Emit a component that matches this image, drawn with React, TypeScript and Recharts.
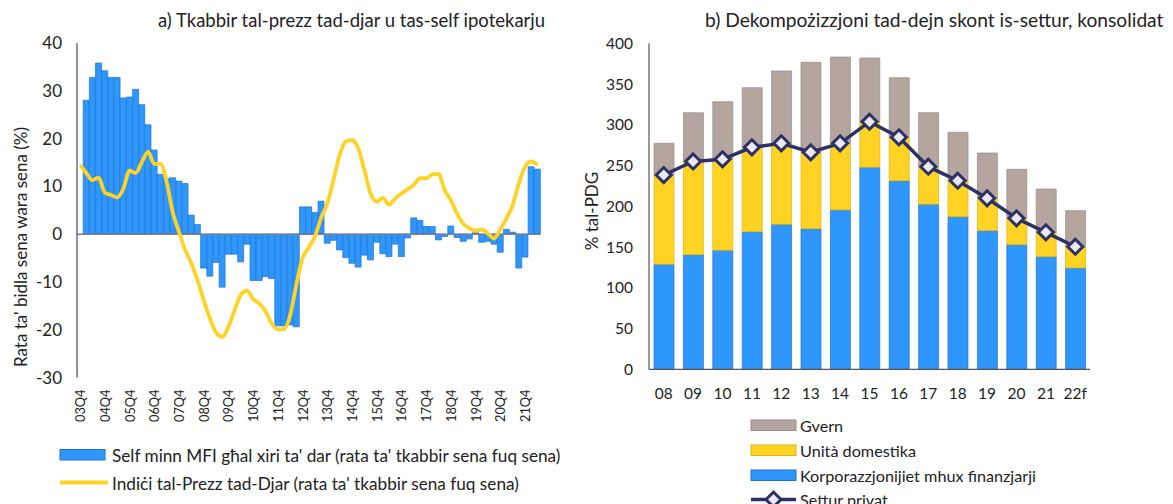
import React from 'react'
import {
  ComposedChart, Bar, Line, XAxis, YAxis, ReferenceLine,
} from 'recharts'

// panel a) - quarterly, 03Q4 .. 22Q2
const quarters = [
  '03Q4',
  '04Q1', '04Q2', '04Q3', '04Q4',
  '05Q1', '05Q2', '05Q3', '05Q4',
  '06Q1', '06Q2', '06Q3', '06Q4',
  '07Q1', '07Q2', '07Q3', '07Q4',
  '08Q1', '08Q2', '08Q3', '08Q4',
  '09Q1', '09Q2', '09Q3', '09Q4',
  '10Q1', '10Q2', '10Q3', '10Q4',
  '11Q1', '11Q2', '11Q3', '11Q4',
  '12Q1', '12Q2', '12Q3', '12Q4',
  '13Q1', '13Q2', '13Q3', '13Q4',
  '14Q1', '14Q2', '14Q3', '14Q4',
  '15Q1', '15Q2', '15Q3', '15Q4',
  '16Q1', '16Q2', '16Q3', '16Q4',
  '17Q1', '17Q2', '17Q3', '17Q4',
  '18Q1', '18Q2', '18Q3', '18Q4',
  '19Q1', '19Q2', '19Q3', '19Q4',
  '20Q1', '20Q2', '20Q3', '20Q4',
  '21Q1', '21Q2', '21Q3', '21Q4',
  '22Q1', '22Q2',
]

const mfiLoans: (number | null)[] = [
  null,
  28.0, 32.8, 35.8, 34.2, 32.8, 32.8, 28.5, 28.7, 30.3, 27.1, 22.9, 17.6, 12.5, 11.6, 11.8, 11.1, 10.6, 4.0, 2.0,
  -7.1, -8.8, -5.9, -11.1, -4.2, -4.2, -5.8, -2.1, -9.7, -9.7, -8.9, -9.3,
  -19.2, -19.2, -19.0, -19.4,
  5.7, 5.7, 4.5, 6.9,
  -1.9, -1.3, -3.3, -4.9, -6.1, -6.9, -4.4, -5.4, -1.7, -4.1, -4.7, -2.1, -4.7, -0.8,
  3.4, 2.9, 1.6, 1.6,
  -1.2, -0.5, 1.7, -0.7, -1.5, -1.0, 0.3, -1.7, -1.5, -2.1, -3.8, 1.0, 0.4, -7.1, -4.8,
  14.1, 13.6,
]

const housePrices = [
  14.5, 12.8, 11.3, 11.8, 8.7, 8.2, 7.7, 9.5, 13.3, 12.8, 15.1, 17.2, 14.7, 14.7, 11.0, 4.5, 0.5,
  -3.3, -6.1, -9.6, -13.8, -17.6, -20.6, -21.5, -19.4, -15.9, -12.7, -11.8, -13.6, -14.5, -16.2, -18.7, -19.9, -19.9, -17.0,
  -10.5, -5.0, -2.8, -0.5, 3.4, 6.4, 11.3, 16.6, 19.4, 19.7, 18.0, 13.4, 8.5, 6.8, 7.6,
  6.2, 7.5, 8.5, 9.4, 10.3, 11.7, 11.7, 12.5, 12.6, 9.2, 7.1, 4.3, 2.2, 1.2, 0.7,
  1.0, 0.1, -0.9, 1.0, 3.3, 6.1, 10.6, 14.1, 15.2, 14.5,
]

const leftTicks = [-30, -20, -10, 0, 10, 20, 30, 40]

// panel b) - yearly, % of GDP
const years = ['08', '09', '10', '11', '12', '13', '14', '15', '16', '17', '18', '19', '20', '21', '22f']
const corporates = [128.8, 140.6, 146.0, 168.8, 177.9, 172.5, 195.5, 247.9, 231.4, 202.5, 187.2, 170.1, 152.9, 138.2, 124.3]
const households = [109.6, 114.4, 111.7, 103.6, 99.4, 93.8, 81.8, 55.9, 53.3, 46.1, 44.2, 39.7, 32.4, 29.9, 26.1]
const government = [38.9, 59.8, 70.6, 73.1, 88.7, 110.4, 105.9, 78.2, 73.1, 66.2, 59.4, 55.6, 60.1, 53.1, 44.2]
const privateSector = [238.4, 255.0, 257.7, 272.4, 277.3, 266.3, 277.3, 303.8, 284.7, 248.6, 231.4, 209.8, 185.3, 168.1, 150.4]

const rightTicks = [0, 50, 100, 150, 200, 250, 300, 350, 400]

const BLUE = '#2f97fb'
const BLUE_EDGE = '#1c72d2'
const YELLOW = '#ffd324'
const YELLOW_EDGE = '#e2b10c'
const TAUPE = '#b4a69f'
const TAUPE_EDGE = '#9a8a84'
const NAVY = '#2d3166'
const TEXT = '#222'
const FONT = 'Lato, "Open Sans", sans-serif'

const leftData = quarters.map((q, i) => ({ q, loans: mfiLoans[i], hpi: housePrices[i] }))
const rightData = years.map((y, i) => ({
  y,
  corp: corporates[i],
  hh: households[i],
  gov: government[i],
  priv: privateSector[i],
}))

function QuarterTick(props: any) {
  const { x, y, payload } = props
  return (
    <text
      transform={`translate(${x},${y + 4}) rotate(-90)`}
      textAnchor="end"
      dominantBaseline="central"
      fontSize={12.8}
      fill={TEXT}
      fontFamily={FONT}
    >
      {payload.value}
    </text>
  )
}

function Diamond(props: any) {
  const { cx, cy } = props
  if (cx == null || cy == null) return null
  const r = 7.5
  return (
    <polygon
      points={`${cx},${cy - r} ${cx + r},${cy} ${cx},${cy + r} ${cx - r},${cy}`}
      fill="#e9e9ef"
      stroke={NAVY}
      strokeWidth={3}
    />
  )
}

function HousingChart() {
  return (
    <ComposedChart
      width={580}
      height={504}
      data={leftData}
      margin={{ top: 43, right: 39.5, left: 0, bottom: 86.5 }}
      barCategoryGap={0}
    >
      <XAxis
        dataKey="q"
        interval={3}
        height={40}
        axisLine={false}
        tickLine={false}
        tick={<QuarterTick />}
      />
      <YAxis
        width={77}
        domain={[-30, 40]}
        ticks={leftTicks}
        interval={0}
        tickLine={false}
        tickMargin={9}
        axisLine={{ stroke: '#46486c', strokeWidth: 1.2 }}
        tick={{ fontSize: 17, fill: TEXT, fontFamily: FONT }}
      />
      <Bar dataKey="loans" fill={BLUE} stroke={BLUE_EDGE} strokeWidth={0.7} isAnimationActive={false} />
      <ReferenceLine y={0} stroke="#7c7c88" strokeWidth={1.5} />
      <Line
        type="monotone"
        dataKey="hpi"
        stroke={YELLOW}
        strokeWidth={3.8}
        dot={false}
        isAnimationActive={false}
      />
    </ComposedChart>
  )
}

function DebtChart() {
  return (
    <ComposedChart
      width={593}
      height={504}
      data={rightData}
      margin={{ top: 43.3, right: 83, left: 0, bottom: 104.7 }}
    >
      <XAxis
        dataKey="y"
        height={30}
        tickLine={false}
        tickMargin={12.5}
        axisLine={{ stroke: '#555', strokeWidth: 1.2 }}
        tick={{ fontSize: 15.5, fill: TEXT, fontFamily: FONT }}
        interval={0}
      />
      <YAxis
        width={69}
        domain={[0, 400]}
        ticks={rightTicks}
        interval={0}
        tickLine={false}
        tickMargin={10}
        axisLine={{ stroke: '#555', strokeWidth: 1.2 }}
        tick={{ fontSize: 15.5, fill: TEXT, fontFamily: FONT }}
      />
      <Bar dataKey="corp" stackId="s" barSize={20} fill={BLUE} stroke={BLUE_EDGE} strokeWidth={0.7} isAnimationActive={false} />
      <Bar dataKey="hh" stackId="s" barSize={20} fill={YELLOW} stroke={YELLOW_EDGE} strokeWidth={0.7} isAnimationActive={false} />
      <Bar dataKey="gov" stackId="s" barSize={20} fill={TAUPE} stroke={TAUPE_EDGE} strokeWidth={0.7} isAnimationActive={false} />
      <Line
        type="linear"
        dataKey="priv"
        stroke={NAVY}
        strokeWidth={3.5}
        dot={<Diamond />}
        isAnimationActive={false}
      />
    </ComposedChart>
  )
}

function Overlay() {
  const txt = { fill: TEXT, fontFamily: FONT }
  return (
    <svg
      width={1173}
      height={504}
      style={{ position: 'absolute', left: 0, top: 0, pointerEvents: 'none' }}
    >
      {/* titles */}
      <text x={158} y={27} fontSize={18.5} {...txt}>
        a) Tkabbir tal-prezz tad-djar u tas-self ipotekarju
      </text>
      <text x={705} y={27} fontSize={19.2} {...txt}>
        b) Dekompożizzjoni tad-dejn skont is-settur, konsolidat
      </text>

      {/* axis titles */}
      <text transform="translate(20,247) rotate(-90)" textAnchor="middle" dominantBaseline="central" fontSize={17} {...txt}>
        Rata ta' bidla sena wara sena (%)
      </text>
      <text transform="translate(591,211) rotate(-90)" textAnchor="middle" dominantBaseline="central" fontSize={17} {...txt}>
        % tal-PDG
      </text>

      {/* legend a) */}
      <rect x={60} y={449.5} width={45} height={10.5} fill={BLUE} stroke={BLUE_EDGE} strokeWidth={1} />
      <text x={112} y={455} dominantBaseline="central" fontSize={17.2} {...txt}>
        Self minn MFI għal xiri ta' dar (rata ta' tkabbir sena fuq sena)
      </text>
      <line x1={60} x2={108} y1={482.5} y2={482.5} stroke={YELLOW} strokeWidth={4} />
      <text x={112} y={483} dominantBaseline="central" fontSize={17.2} {...txt}>
        Indiċi tal-Prezz tad-Djar (rata ta' tkabbir sena fuq sena)
      </text>

      {/* legend b) */}
      <rect x={751} y={420} width={45} height={10.5} fill={TAUPE} stroke={TAUPE_EDGE} strokeWidth={1} />
      <text x={800} y={425.5} dominantBaseline="central" fontSize={16.2} {...txt}>Gvern</text>
      <rect x={751} y={445} width={45} height={10.5} fill={YELLOW} stroke={YELLOW_EDGE} strokeWidth={1} />
      <text x={800} y={450.5} dominantBaseline="central" fontSize={16.2} {...txt}>Unità domestika</text>
      <rect x={751} y={470} width={45} height={10.5} fill={BLUE} stroke={BLUE_EDGE} strokeWidth={1} />
      <text x={800} y={475.5} dominantBaseline="central" fontSize={16.2} {...txt}>Korporazzjonijiet mhux finanzjarji</text>
      <line x1={751} x2={796} y1={499.5} y2={499.5} stroke={NAVY} strokeWidth={3.5} />
      <Diamond cx={773.5} cy={499.5} />
      <text x={800} y={499.5} dominantBaseline="central" fontSize={16.2} {...txt}>Settur privat</text>
    </svg>
  )
}

export default function App() {
  return (
    <div
      style={{
        position: 'absolute', left: 0, top: 0, width: 1173, height: 504,
        overflow: 'hidden', background: '#fff', fontFamily: FONT,
      }}
    >
      <div style={{ position: 'absolute', left: 0, top: 0 }}>
        <HousingChart />
      </div>
      <div style={{ position: 'absolute', left: 580, top: 0 }}>
        <DebtChart />
      </div>
      <Overlay />
    </div>
  )
}
